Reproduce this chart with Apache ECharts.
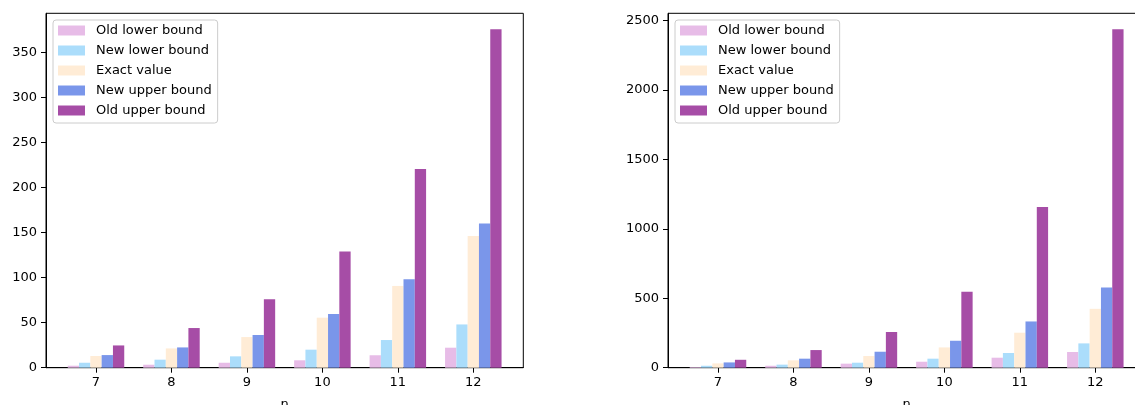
<!DOCTYPE html>
<html>
<head>
<meta charset="utf-8">
<script src="https://cdn.jsdelivr.net/npm/echarts@6/dist/echarts.min.js"></script>
<style>
html,body{margin:0;padding:0;background:#fff;}
#chart{width:1135px;height:405px;}
</style>
</head>
<body>
<div id="chart"></div>
<script>
const categories = [7, 8, 9, 10, 11, 12];
const seriesNames = ['Old lower bound', 'New lower bound', 'Exact value', 'New upper bound', 'Old upper bound'];
const seriesColors = ['#e7bce7', '#abddfb', '#ffecd6', '#7a96ea', '#a64da6'];

const leftOldLower = [2.2, 3.3, 5.5, 8.2, 13.8, 22.2];
const leftNewLower = [5.5, 8.9, 12.6, 20, 30.7, 48];
const leftExact = [13, 21.4, 34, 55.5, 90.7, 146];
const leftNewUpper = [14, 22.5, 36.3, 59.6, 98, 160];
const leftOldUpper = [24.7, 44, 75.9, 129, 220.5, 375.5];

const rightOldLower = [5, 14, 29, 43, 72, 113];
const rightNewLower = [14, 22, 36, 65, 106, 175];
const rightExact = [31, 53, 84, 146, 252, 424];
const rightNewUpper = [38, 65, 115, 194, 333, 578];
const rightOldUpper = [57, 127, 257, 547, 1158, 2437];

const leftTicks = [0, 50, 100, 150, 200, 250, 300, 350];
const rightTicks = [0, 500, 1000, 1500, 2000, 2500];

const leftData = [leftOldLower, leftNewLower, leftExact, leftNewUpper, leftOldUpper];
const rightData = [rightOldLower, rightNewLower, rightExact, rightNewUpper, rightOldUpper];

const FONT = 'DejaVu Sans';
const chart = echarts.init(document.getElementById('chart'), null, {renderer: 'canvas'});

function plain(v) { return String(v); }

function xAxis(gridIndex) {
  return {
    type: 'value', gridIndex: gridIndex,
    min: 6.3375, max: 12.6625,
    name: 'n', nameLocation: 'middle', nameGap: 30,
    nameTextStyle: {fontFamily: FONT, fontSize: 13, color: '#000', verticalAlign: 'top'},
    axisLine: {show: true, lineStyle: {color: '#000', width: 1}},
    axisTick: {show: true, length: 5, lineStyle: {color: '#000'}, customValues: categories},
    axisLabel: {show: true, margin: 8, fontFamily: FONT, fontSize: 13, color: '#000', customValues: categories, formatter: plain},
    splitLine: {show: false}
  };
}
function yAxis(gridIndex, max, ticks) {
  return {
    type: 'value', gridIndex: gridIndex,
    min: 0, max: max,
    axisLine: {show: true, lineStyle: {color: '#000', width: 1}},
    axisTick: {show: true, length: 5, lineStyle: {color: '#000'}, customValues: ticks},
    axisLabel: {show: true, margin: 9, fontFamily: FONT, fontSize: 13, color: '#000', customValues: ticks, formatter: plain},
    splitLine: {show: false}
  };
}

const series = [];
[leftData, rightData].forEach(function (dataSet, gi) {
  dataSet.forEach(function (vals, si) {
    series.push({
      type: 'bar', name: seriesNames[si],
      xAxisIndex: gi, yAxisIndex: gi,
      barWidth: 11.3, barGap: '0%',
      itemStyle: {color: seriesColors[si]},
      data: categories.map(function (c, i) { return [c, vals[i]]; })
    });
  });
});

function legend(left) {
  return {
    orient: 'vertical', left: left, top: 20,
    data: seriesNames,
    icon: 'rect', itemWidth: 27, itemHeight: 10, itemGap: 5,
    padding: [3, 6, 5, 5],
    backgroundColor: '#fff', borderColor: '#cccccc', borderWidth: 1, borderRadius: 3,
    textStyle: {fontFamily: FONT, fontSize: 13, color: '#000', lineHeight: 15, padding: [0, 0, 0, 6]},
    selectedMode: false
  };
}

chart.setOption({
  animation: false,
  backgroundColor: '#fff',
  grid: [
    {left: 46, top: 13.3, width: 477.3, height: 354.4, show: true, borderColor: '#000', borderWidth: 1, backgroundColor: 'transparent', containLabel: false, outerBoundsMode: 'none'},
    {left: 668, top: 13.3, width: 477.3, height: 354.4, show: true, borderColor: '#000', borderWidth: 1, backgroundColor: 'transparent', containLabel: false, outerBoundsMode: 'none'}
  ],
  xAxis: [xAxis(0), xAxis(1)],
  yAxis: [yAxis(0, 393.2, leftTicks), yAxis(1, 2552, rightTicks)],
  legend: [legend(53), legend(675)],
  series: series
});
</script>
</body>
</html>
